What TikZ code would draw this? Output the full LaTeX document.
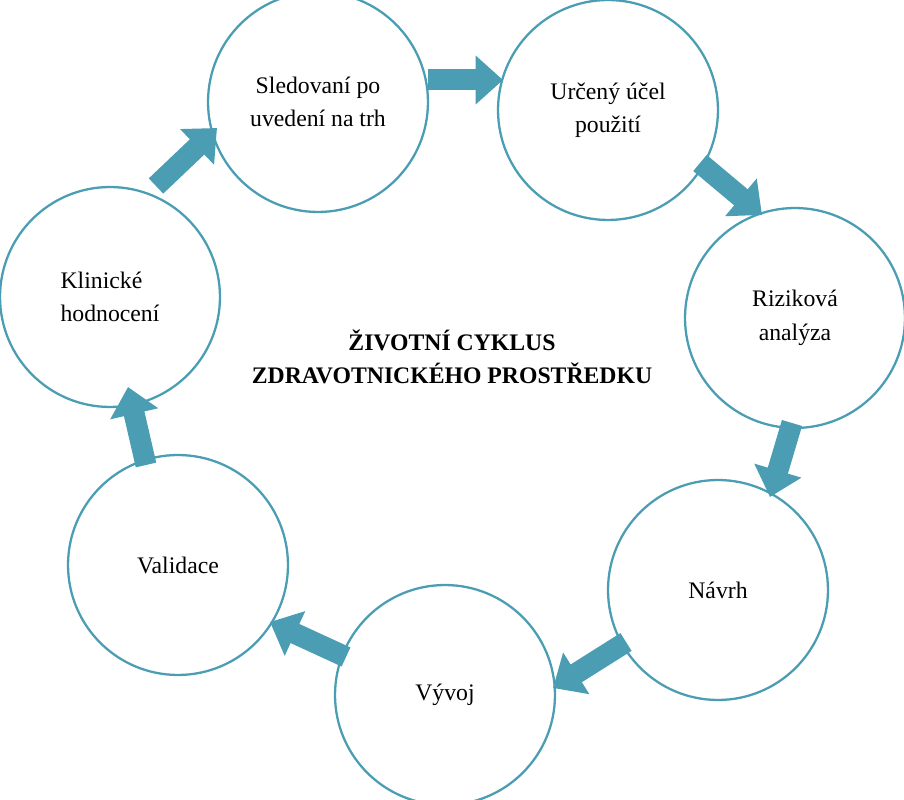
\documentclass[tikz,border=0pt]{standalone}
\usepackage{fontspec}
\setmainfont{Liberation Serif}
\usetikzlibrary{arrows.meta}
\definecolor{teal1}{HTML}{4A9DB2}
\tikzstyle{stage} = [circle, draw=teal1, line width=1.3pt, minimum size=4.4cm, align=center, font=\fontsize{13.5}{19}\selectfont]
\tikzstyle{flow} = [teal1, line width=0.42cm, -{Triangle[length=0.55cm,width=0.95cm]}]

\begin{document}
\begin{tikzpicture}[x=0.02cm, y=-0.02cm]
  \useasboundingbox (0,0) rectangle (904,800);

  % etapy
  \node[stage] (sled) at (318,102) {Sledovaní po\\uvedení na trh};
  \node[stage] (ucel) at (608,110) {Určený účel\\použití};
  \node[stage] (riz) at (795,318) {Riziková\\analýza};
  \node[stage] (navrh) at (718,590) {Návrh};
  \node[stage] (vyvoj) at (445,695) {Vývoj};
  \node[stage] (valid) at (178,565) {Validace};
  \node[stage, align=left] (klin) at (110,297) {Klinické\\hodnocení};

  % nadpis
  \node[align=center, font=\fontsize{13.5}{19}\selectfont\bfseries] (title) at (452,357)
    {ŽIVOTNÍ CYKLUS\\ZDRAVOTNICKÉHO PROSTŘEDKU};

  % konce šipek
  \coordinate (f1s) at (428,80);  \coordinate (f1e) at (503,80);
  \coordinate (f2s) at (700,163); \coordinate (f2e) at (762,215);
  \coordinate (f3s) at (792,423); \coordinate (f3e) at (770,497);
  \coordinate (f4s) at (626,642); \coordinate (f4e) at (553,688);
  \coordinate (f5s) at (346,657); \coordinate (f5e) at (270,622);
  \coordinate (f6s) at (146,465); \coordinate (f6e) at (128,387);
  \coordinate (f7s) at (156,186); \coordinate (f7e) at (217,128);

  % šipky
  \draw[flow] (f1s) -- (f1e);
  \draw[flow] (f2s) -- (f2e);
  \draw[flow] (f3s) -- (f3e);
  \draw[flow] (f4s) -- (f4e);
  \draw[flow] (f5s) -- (f5e);
  \draw[flow] (f6s) -- (f6e);
  \draw[flow] (f7s) -- (f7e);
\end{tikzpicture}
\end{document}
